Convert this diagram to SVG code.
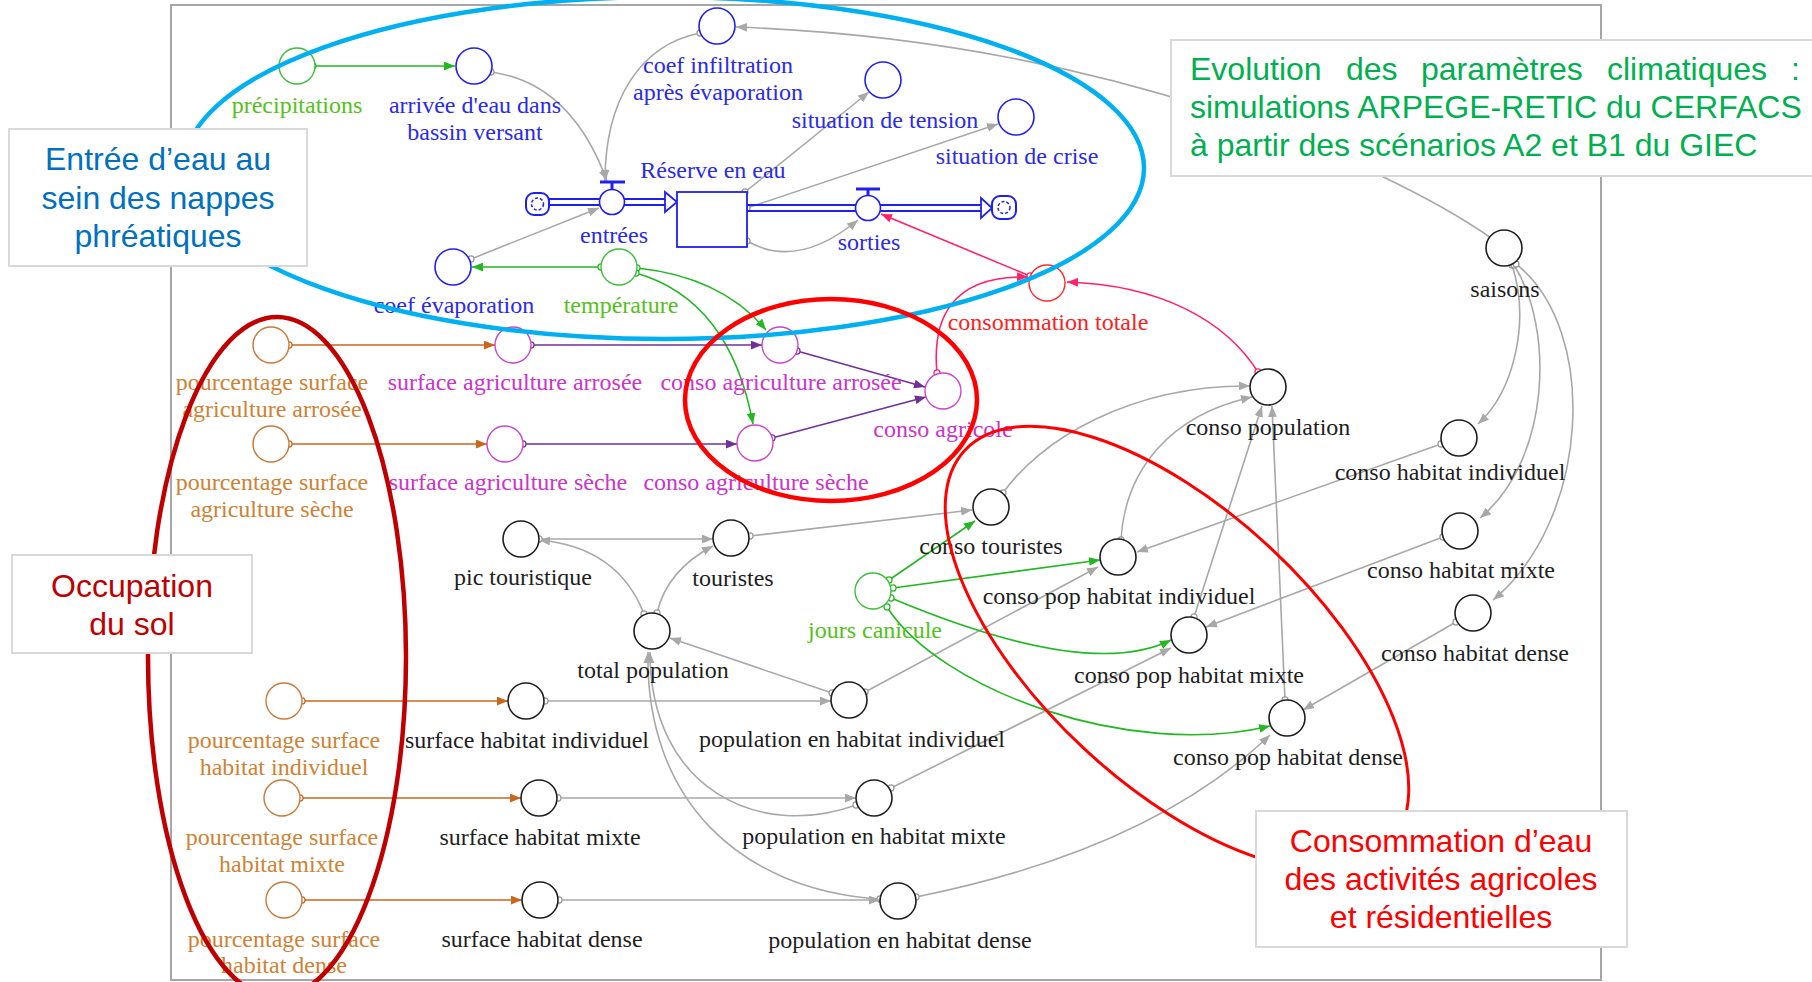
<svg xmlns="http://www.w3.org/2000/svg" width="1812" height="982" viewBox="0 0 1812 982">
<defs>
<style>
.lbl{font-family:"Liberation Serif","Times New Roman",serif;font-size:24px;text-anchor:middle}
.tb{fill:#2a2aee}.tg{fill:#52c21a}.tr{fill:#ff2020}.tm{fill:#cc33cc}.to{fill:#cf8233}.tk{fill:#1e1e1e}
.nb{fill:#fff;stroke:#2020ee;stroke-width:1.6}
.ng{fill:#fff;stroke:#3cc03c;stroke-width:1.4}
.nr{fill:#fff;stroke:#ff2a2a;stroke-width:1.4}
.nm{fill:#fff;stroke:#cc44cc;stroke-width:1.4}
.no{fill:#fff;stroke:#cc7a3a;stroke-width:1.4}
.nk{fill:#fff;stroke:#1e1e1e;stroke-width:1.6}
.lk{fill:none;stroke-width:1.6}
.cg{stroke:#a8a8a8;marker-start:url(#oG);marker-end:url(#aG)}
.cgr{stroke:#22b822;marker-start:url(#oGr);marker-end:url(#aGr)}
.cbr{stroke:#c8661c;marker-start:url(#oBr);marker-end:url(#aBr)}
.cpu{stroke:#70309a;marker-start:url(#oPu);marker-end:url(#aPu)}
.cpk{stroke:#ff2266;marker-start:url(#oPk);marker-end:url(#aPk)}
.pipe{stroke:#2020ee;stroke-width:1.8;fill:none}
.box{fill:#fff;stroke:#d9d9d9;stroke-width:2}
.bt{font-family:"Liberation Sans",Arial,sans-serif;font-size:32px;text-anchor:middle}
</style>
<marker id="aG" viewBox="0 0 10 8" refX="10" refY="4" markerWidth="11" markerHeight="9" orient="auto" markerUnits="userSpaceOnUse"><path d="M0,0L10,4L0,8z" fill="#a8a8a8"/></marker>
<marker id="aGr" viewBox="0 0 10 8" refX="10" refY="4" markerWidth="11" markerHeight="9" orient="auto" markerUnits="userSpaceOnUse"><path d="M0,0L10,4L0,8z" fill="#22b822"/></marker>
<marker id="aBr" viewBox="0 0 10 8" refX="10" refY="4" markerWidth="11" markerHeight="9" orient="auto" markerUnits="userSpaceOnUse"><path d="M0,0L10,4L0,8z" fill="#c8661c"/></marker>
<marker id="aPu" viewBox="0 0 10 8" refX="10" refY="4" markerWidth="11" markerHeight="9" orient="auto" markerUnits="userSpaceOnUse"><path d="M0,0L10,4L0,8z" fill="#70309a"/></marker>
<marker id="aPk" viewBox="0 0 10 8" refX="10" refY="4" markerWidth="11" markerHeight="9" orient="auto" markerUnits="userSpaceOnUse"><path d="M0,0L10,4L0,8z" fill="#ff2266"/></marker>
<marker id="oG" viewBox="0 0 10 10" refX="5" refY="5" markerWidth="8" markerHeight="8" markerUnits="userSpaceOnUse"><circle cx="5" cy="5" r="3.8" fill="#fff" stroke="#999" stroke-width="1.5"/></marker>
<marker id="oGr" viewBox="0 0 10 10" refX="5" refY="5" markerWidth="8" markerHeight="8" markerUnits="userSpaceOnUse"><circle cx="5" cy="5" r="3.8" fill="#fff" stroke="#22b822" stroke-width="1.5"/></marker>
<marker id="oBr" viewBox="0 0 10 10" refX="5" refY="5" markerWidth="8" markerHeight="8" markerUnits="userSpaceOnUse"><circle cx="5" cy="5" r="3.8" fill="#fff" stroke="#c8661c" stroke-width="1.5"/></marker>
<marker id="oPu" viewBox="0 0 10 10" refX="5" refY="5" markerWidth="8" markerHeight="8" markerUnits="userSpaceOnUse"><circle cx="5" cy="5" r="3.8" fill="#fff" stroke="#70309a" stroke-width="1.5"/></marker>
<marker id="oPk" viewBox="0 0 10 10" refX="5" refY="5" markerWidth="8" markerHeight="8" markerUnits="userSpaceOnUse"><circle cx="5" cy="5" r="3.8" fill="#fff" stroke="#ff2266" stroke-width="1.5"/></marker>
</defs>
<rect width="1812" height="982" fill="#fff"/>
<rect id="frame" x="171" y="5" width="1430" height="975" fill="none" stroke="#a6a6a6" stroke-width="2"/>

<g id="connectors">
<path class="lk cgr" d="M313,66 L455,66"/>
<path class="lk cg" d="M491,72 Q571,83 607,181"/>
<path class="lk cg" d="M700,33 C640,45 605,100 605,181"/>
<path class="lk cg" d="M1494,240 C1380,160 1100,40 736,27"/>
<path class="lk cg" d="M471,259 L599,208"/>
<path class="lk cgr" d="M601,267 L472,267"/>
<path class="lk cgr" d="M637,268 Q722,277 766,330"/>
<path class="lk cgr" d="M636,273 Q730,300 753,424"/>
<path class="lk cg" d="M745,192 L869,92"/>
<path class="lk cg" d="M747,208 L998,124"/>
<path class="lk cg" d="M747,241 Q797,270 858,220"/>
<path class="lk cpk" d="M1030,276 L881,214"/>
<path class="lk cpk" d="M937,373 C932,320 950,275 1028,277"/>
<path class="lk cpk" d="M1258,372 C1225,320 1160,285 1067,282"/>
<path class="lk cbr" d="M289,345 L495,345"/>
<path class="lk cpu" d="M531,345 L762,345"/>
<path class="lk cbr" d="M289,444 L487,444"/>
<path class="lk cpu" d="M523,444 L737,444"/>
<path class="lk cpu" d="M797,351 L925,387"/>
<path class="lk cpu" d="M772,438 L926,397"/>
<path class="lk cg" d="M644,614 Q618,547 539,540"/>
<path class="lk cg" d="M539,539 L713,539"/>
<path class="lk cg" d="M657,613 Q667,570 713,546"/>
<path class="lk cg" d="M750,536 L972,510"/>
<path class="lk cg" d="M1003,493 C1040,440 1130,385 1250,386"/>
<path class="lk cg" d="M1121,540 C1125,470 1170,415 1252,397"/>
<path class="lk cg" d="M1194,617 L1262,406"/>
<path class="lk cg" d="M1285,700 L1272,406"/>
<path class="lk cg" d="M832,693 L670,638"/>
<path class="lk cg" d="M856,805 C760,840 650,790 650,652"/>
<path class="lk cg" d="M880,899 C740,890 645,800 648,652"/>
<path class="lk cg" d="M545,701 L831,701"/>
<path class="lk cg" d="M558,798 L856,798"/>
<path class="lk cg" d="M559,900 L880,900"/>
<path class="lk cbr" d="M302,701 L508,701"/>
<path class="lk cbr" d="M300,798 L521,798"/>
<path class="lk cbr" d="M302,900 L522,900"/>
<path class="lk cg" d="M865,692 L1098,567"/>
<path class="lk cg" d="M891,788 L1171,648"/>
<path class="lk cg" d="M916,897 Q1150,850 1270,735"/>
<path class="lk cgr" d="M889,580 L975,521"/>
<path class="lk cgr" d="M893,588 L1100,560"/>
<path class="lk cgr" d="M891,598 Q1089,681 1171,640"/>
<path class="lk cgr" d="M887,607 C940,690 1130,760 1270,726"/>
<path class="lk cg" d="M1512,265 C1530,320 1515,390 1478,424"/>
<path class="lk cg" d="M1514,265 C1555,330 1550,460 1480,518"/>
<path class="lk cg" d="M1516,264 C1600,330 1590,520 1493,600"/>
<path class="lk cg" d="M1441,444 L1137,552"/>
<path class="lk cg" d="M1443,537 L1206,627"/>
<path class="lk cg" d="M1456,622 L1303,710"/>
</g>

<g id="flows">
<line class="pipe" x1="549" y1="199" x2="600" y2="199"/><line class="pipe" x1="549" y1="205" x2="600" y2="205"/>
<line class="pipe" x1="624" y1="199" x2="666" y2="199"/><line class="pipe" x1="624" y1="205" x2="666" y2="205"/>
<polygon points="665,192 677,202 665,212" fill="#fff" stroke="#2020ee" stroke-width="1.8"/>
<line class="pipe" x1="747" y1="205" x2="856" y2="205"/><line class="pipe" x1="747" y1="211" x2="856" y2="211"/>
<line class="pipe" x1="880" y1="205" x2="982" y2="205"/><line class="pipe" x1="880" y1="211" x2="982" y2="211"/>
<polygon points="981,198 992,208 981,218" fill="#fff" stroke="#2020ee" stroke-width="1.8"/>
</g>

<g id="n-source"><rect x="526" y="193" width="23" height="22" rx="8" fill="#fff" stroke="#2020ee" stroke-width="2"/><circle cx="537.5" cy="204" r="6" fill="none" stroke="#2020ee" stroke-width="1.5" stroke-dasharray="3 2"/></g>
<g id="n-sink"><rect x="992" y="196" width="24" height="23" rx="8" fill="#fff" stroke="#2020ee" stroke-width="2"/><circle cx="1004" cy="207.5" r="6" fill="none" stroke="#2020ee" stroke-width="1.5" stroke-dasharray="3 2"/></g>
<g id="n-entrees"><line x1="612" y1="182" x2="612" y2="190" stroke="#2020ee" stroke-width="3"/><line x1="600" y1="182" x2="625" y2="182" stroke="#2020ee" stroke-width="3"/><circle class="nb" cx="612" cy="202" r="12.5"/><text class="lbl tb" x="614" y="243">entrées</text></g>
<g id="n-sorties"><line x1="868" y1="189" x2="868" y2="197" stroke="#2020ee" stroke-width="3"/><line x1="856" y1="189" x2="880" y2="189" stroke="#2020ee" stroke-width="3"/><circle class="nb" cx="868" cy="208" r="12.5"/><text class="lbl tb" x="869" y="250">sorties</text></g>
<g id="n-reserve"><rect x="677" y="192" width="70" height="55" fill="#fff" stroke="#2020ee" stroke-width="1.8"/><text class="lbl tb" x="713" y="178">Réserve en eau</text></g>

<g id="n-precipitations"><circle class="ng" cx="297" cy="66" r="18"/><text class="lbl tg" x="297" y="113">précipitations</text></g>
<g id="n-arrivee"><circle class="nb" cx="474" cy="66" r="18"/><text class="lbl tb" x="475" y="113">arrivée d'eau dans</text><text class="lbl tb" x="475" y="140">bassin versant</text></g>
<g id="n-coef-infiltration"><circle class="nb" cx="717" cy="26" r="18"/><text class="lbl tb" x="718" y="73">coef infiltration</text><text class="lbl tb" x="718" y="100">après évaporation</text></g>
<g id="n-tension"><circle class="nb" cx="883" cy="80" r="18"/><text class="lbl tb" x="885" y="128">situation de tension</text></g>
<g id="n-crise"><circle class="nb" cx="1016" cy="117" r="18"/><text class="lbl tb" x="1017" y="164">situation de crise</text></g>
<g id="n-coef-evaporation"><circle class="nb" cx="453" cy="267" r="18"/><text class="lbl tb" x="454" y="313">coef évaporation</text></g>
<g id="n-temperature"><circle class="ng" cx="619" cy="267" r="18"/><text class="lbl tg" x="621" y="313">température</text></g>
<g id="n-conso-totale"><circle class="nr" cx="1047" cy="283" r="18"/><text class="lbl tr" x="1048" y="330">consommation totale</text></g>

<g id="n-pct-agri-arrosee"><circle class="no" cx="271" cy="345" r="18"/><text class="lbl to" x="272" y="390">pourcentage surface</text><text class="lbl to" x="272" y="417">agriculture arrosée</text></g>
<g id="n-surf-agri-arrosee"><circle class="nm" cx="513" cy="345" r="18"/><text class="lbl tm" x="515" y="390">surface agriculture arrosée</text></g>
<g id="n-conso-agri-arrosee"><circle class="nm" cx="780" cy="345" r="18"/><text class="lbl tm" x="781" y="390">conso agriculture arrosée</text></g>
<g id="n-conso-agricole"><circle class="nm" cx="943" cy="391" r="18"/><text class="lbl tm" x="943" y="437">conso agricole</text></g>
<g id="n-pct-agri-seche"><circle class="no" cx="271" cy="444" r="18"/><text class="lbl to" x="272" y="490">pourcentage surface</text><text class="lbl to" x="272" y="517">agriculture sèche</text></g>
<g id="n-surf-agri-seche"><circle class="nm" cx="505" cy="444" r="18"/><text class="lbl tm" x="508" y="490">surface agriculture sèche</text></g>
<g id="n-conso-agri-seche"><circle class="nm" cx="755" cy="443" r="18"/><text class="lbl tm" x="756" y="490">conso agriculture sèche</text></g>

<g id="n-pic-touristique"><circle class="nk" cx="521" cy="539" r="18"/><text class="lbl tk" x="523" y="585">pic touristique</text></g>
<g id="n-touristes"><circle class="nk" cx="731" cy="538" r="18"/><text class="lbl tk" x="733" y="586">touristes</text></g>
<g id="n-total-population"><circle class="nk" cx="652" cy="631" r="18"/><text class="lbl tk" x="653" y="678">total population</text></g>
<g id="n-conso-touristes"><circle class="nk" cx="991" cy="507" r="18"/><text class="lbl tk" x="991" y="554">conso touristes</text></g>
<g id="n-jours-canicule"><circle class="ng" cx="873" cy="591" r="18"/><text class="lbl tg" x="875" y="638">jours canicule</text></g>
<g id="n-conso-population"><circle class="nk" cx="1268" cy="387" r="18"/><text class="lbl tk" x="1268" y="435">conso population</text></g>
<g id="n-saisons"><circle class="nk" cx="1504" cy="248" r="18"/><text class="lbl tk" x="1505" y="297">saisons</text></g>
<g id="n-conso-hab-indiv"><circle class="nk" cx="1459" cy="438" r="18"/><text class="lbl tk" x="1450" y="480">conso habitat individuel</text></g>
<g id="n-conso-hab-mixte"><circle class="nk" cx="1460" cy="531" r="18"/><text class="lbl tk" x="1461" y="578">conso habitat mixte</text></g>
<g id="n-conso-hab-dense"><circle class="nk" cx="1473" cy="613" r="18"/><text class="lbl tk" x="1475" y="661">conso habitat dense</text></g>
<g id="n-cp-hab-indiv"><circle class="nk" cx="1118" cy="557" r="18"/><text class="lbl tk" x="1119" y="604">conso pop habitat individuel</text></g>
<g id="n-cp-hab-mixte"><circle class="nk" cx="1189" cy="635" r="18"/><text class="lbl tk" x="1189" y="683">conso pop habitat mixte</text></g>
<g id="n-cp-hab-dense"><circle class="nk" cx="1287" cy="718" r="18"/><text class="lbl tk" x="1288" y="765">conso pop habitat dense</text></g>

<g id="n-pct-hab-indiv"><circle class="no" cx="284" cy="701" r="18"/><text class="lbl to" x="284" y="748">pourcentage surface</text><text class="lbl to" x="284" y="775">habitat individuel</text></g>
<g id="n-surf-hab-indiv"><circle class="nk" cx="526" cy="701" r="18"/><text class="lbl tk" x="527" y="748">surface habitat individuel</text></g>
<g id="n-pop-hab-indiv"><circle class="nk" cx="849" cy="700" r="18"/><text class="lbl tk" x="852" y="747">population en habitat individuel</text></g>
<g id="n-pct-hab-mixte"><circle class="no" cx="282" cy="798" r="18"/><text class="lbl to" x="282" y="845">pourcentage surface</text><text class="lbl to" x="282" y="872">habitat mixte</text></g>
<g id="n-surf-hab-mixte"><circle class="nk" cx="539" cy="798" r="18"/><text class="lbl tk" x="540" y="845">surface habitat mixte</text></g>
<g id="n-pop-hab-mixte"><circle class="nk" cx="874" cy="798" r="18"/><text class="lbl tk" x="874" y="844">population en habitat mixte</text></g>
<g id="n-pct-hab-dense"><circle class="no" cx="284" cy="900" r="18"/><text class="lbl to" x="284" y="947">pourcentage surface</text><text class="lbl to" x="284" y="973">habitat dense</text></g>
<g id="n-surf-hab-dense"><circle class="nk" cx="540" cy="900" r="18"/><text class="lbl tk" x="542" y="947">surface habitat dense</text></g>
<g id="n-pop-hab-dense"><circle class="nk" cx="898" cy="901" r="18"/><text class="lbl tk" x="900" y="948">population en habitat dense</text></g>

<g id="groupings" fill="none">
<ellipse cx="664" cy="168" rx="480" ry="171" stroke="#00b0f0" stroke-width="4.5"/>
<ellipse cx="831" cy="400" rx="146" ry="101" stroke="#ff0000" stroke-width="4.5"/>
<ellipse cx="277" cy="657" rx="129" ry="340" stroke="#c00000" stroke-width="4.5"/>
<ellipse cx="0" cy="0" rx="290" ry="137" transform="translate(1177,648) rotate(43)" stroke="#ff0000" stroke-width="3"/>
</g>

<g id="box-entree"><rect class="box" x="9" y="129" width="298" height="137"/>
<text class="bt" fill="#0070c0"><tspan x="158" y="170">Entrée d’eau au</tspan><tspan x="158" y="209">sein des nappes</tspan><tspan x="158" y="247">phréatiques</tspan></text></g>
<g id="box-occupation"><rect class="box" x="12" y="555" width="240" height="98"/>
<text class="bt" fill="#c00000"><tspan x="132" y="597">Occupation</tspan><tspan x="132" y="635">du sol</tspan></text></g>
<g id="box-evolution"><rect class="box" x="1171" y="40" width="660" height="136"/>
<g font-family="Liberation Sans, Arial, sans-serif" font-size="32" fill="#00b050">
<text x="1190" y="80">Evolution</text><text x="1346" y="80">des</text><text x="1421" y="80">paramètres</text><text x="1607" y="80">climatiques</text><text x="1791" y="80">:</text>
<text x="1190" y="118">simulations ARPEGE-RETIC du CERFACS</text>
<text x="1190" y="156">à partir des scénarios A2 et B1 du GIEC</text></g></g>
<g id="box-consommation"><rect class="box" x="1256" y="811" width="371" height="136"/>
<text class="bt" fill="#ff0000"><tspan x="1441" y="852">Consommation d’eau</tspan><tspan x="1441" y="890">des activités agricoles</tspan><tspan x="1441" y="928">et résidentielles</tspan></text></g>
</svg>
